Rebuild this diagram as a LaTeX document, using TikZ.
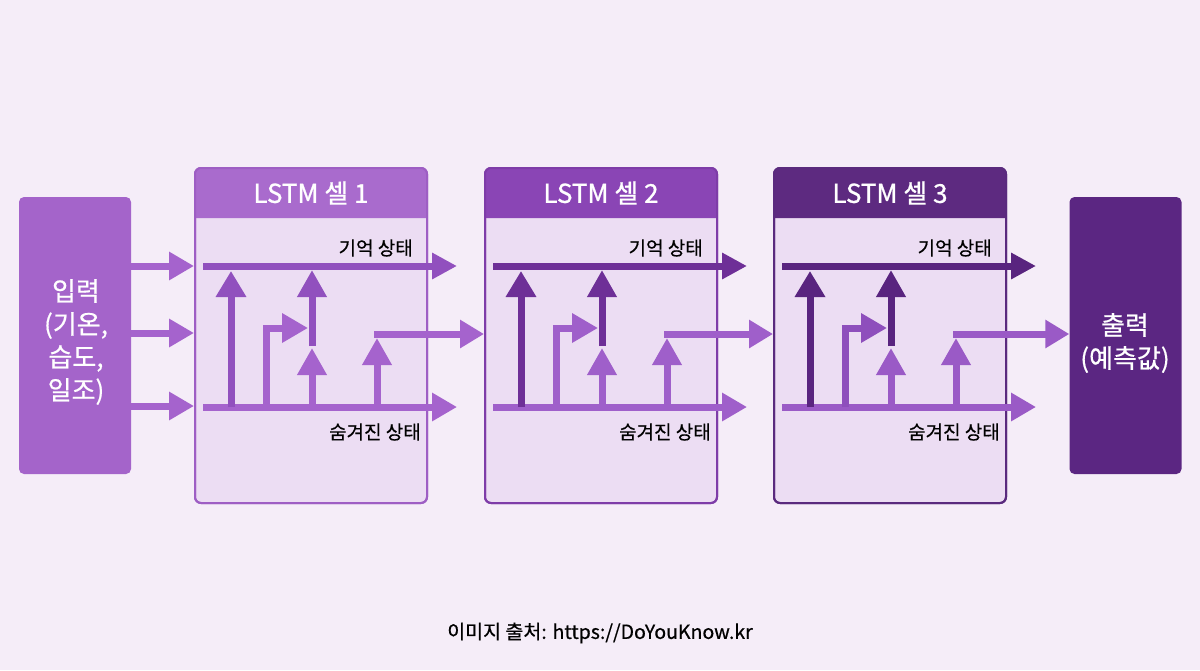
\documentclass[tikz,border=0pt]{standalone}
\usepackage{fontspec}
\setmainfont{Noto Sans CJK KR}
\newfontfamily\medfont{Noto Sans CJK KR}[FakeBold=0.9]
\newfontfamily\semifont{Noto Sans CJK KR}[FakeBold=0.6]
\usetikzlibrary{arrows.meta}
\definecolor{bg}{HTML}{F5EDF8}
\definecolor{inC}{HTML}{A464CA}
\definecolor{outC}{HTML}{5B2682}
\definecolor{hdA}{HTML}{A96BCD}
\definecolor{hdB}{HTML}{8A45B5}
\definecolor{hdC}{HTML}{5D2A80}
\definecolor{bdA}{HTML}{9E5EC4}
\definecolor{bdB}{HTML}{7E3CA8}
\definecolor{bdC}{HTML}{5A2A7E}
\definecolor{bodyC}{HTML}{ECDDF3}
\definecolor{memA}{HTML}{9150BE}
\definecolor{medA}{HTML}{A563CD}
\definecolor{darkB}{HTML}{6E2F97}
\definecolor{medB}{HTML}{9F5FCA}
\definecolor{darkC}{HTML}{59247F}
\definecolor{medC}{HTML}{9A5AC6}
\definecolor{medD}{HTML}{8E4FBC}
\tikzset{
  arr/.style={line width=7pt,-{Triangle[length=25pt,width=27pt]}},
  lbl/.style={font=\semifont\fontsize{19}{22}\selectfont, text=black, inner sep=0pt},
  ttl/.style={font=\medfont\fontsize{26}{30}\selectfont, text=white, inner sep=0pt},
  iobox/.style={rounded corners=5pt, minimum width=112pt, minimum height=277pt, inner sep=0pt},
  iotext/.style={text=white, align=center, inner sep=0pt, font=\semifont\fontsize{26}{33}\selectfont},
  cellbox/.style={rounded corners=6pt, minimum width=232pt, minimum height=335pt, inner sep=0pt, fill=bodyC, line width=2pt},
}
\begin{document}
\begin{tikzpicture}[x=1pt,y=-1pt]
\fill[bg] (0,0) rectangle (1200,670);
\useasboundingbox (0,0) rectangle (1200,670);

% input and output boxes
\node[iobox, fill=inC] (in) at (75,335.5) {};
\node[iotext] (intext) at (76,342) {입력\\(기온,\\습도,\\일조)};
\node[iobox, fill=outC] (out) at (1125.5,335.5) {};
\node[iotext] (outtext) at (1125,343) {출력\\(예측값)};

\foreach \i/\dx/\hc/\bc/\mc/\ac/\ec in {1/0/hdA/bdA/memA/medA/medA, 2/290/hdB/bdB/darkB/medB/medB, 3/579/hdC/bdC/darkC/medC/medD}{
  \begin{scope}[xshift=\dx pt]
  \node[cellbox, draw=\bc] (cell\i) at (311,335.5) {};
  \fill[\hc] (195,218) [rounded corners=6pt] -- (195,168) -- (427,168) [sharp corners] -- (427,218) -- cycle;
  \draw[\bc, line width=2pt, rounded corners=6pt] (195,503) rectangle (427,168);
  \node[ttl] (title\i) at (311,193) {LSTM 셀 \i};
  \node[lbl, anchor=east] (mlab\i) at (413,248) {기억 상태};
  \node[lbl, anchor=east] (hlab\i) at (421,432) {숨겨진 상태};
  \coordinate (ms\i) at (203,266);
  \coordinate (me\i) at (457,266);
  \coordinate (hs\i) at (203,407);
  \coordinate (he\i) at (457,407);
  \coordinate (v1b\i) at (231,407);
  \coordinate (v1t\i) at (231,271);
  \coordinate (v2b\i) at (266,407);
  \coordinate (v2t\i) at (308,328);
  \coordinate (v3a\i) at (312,346);
  \coordinate (v3t\i) at (312,270);
  \coordinate (v3b\i) at (312,407);
  \coordinate (v3m\i) at (312,348);
  \coordinate (v4b\i) at (377,407);
  \coordinate (v4t\i) at (377,338);
  \coordinate (o\i) at (374,334);
  % hidden and memory lines
  \draw[arr, \ac] (hs\i) -- (he\i);
  \draw[arr, \mc, -{Triangle[length=25pt,width=25pt]}] (ms\i) -- (me\i);
  % gate arrows
  \draw[arr, \mc, -{Triangle[length=26pt,width=29pt]}] (v1b\i) -- (v1t\i);
  \draw[arr, \ec, -{Triangle[length=26pt,width=28pt]}] (v2b\i) |- (v2t\i);
  \draw[arr, \mc, -{Triangle[length=27pt,width=28pt]}] (v3a\i) -- (v3t\i);
  \draw[arr, \ac, -{Triangle[length=27pt,width=28pt]}] (v3b\i) -- (v3m\i);
  \draw[arr, \ac, -{Triangle[length=27pt,width=28pt]}] (v4b\i) -- (v4t\i);
  \end{scope}
}

% inter-cell connectors
\draw[arr, medA, -{Triangle[length=24pt,width=27pt]}] (o1) -- (o1 -| cell2.west);
\draw[arr, medB, -{Triangle[length=24pt,width=27pt]}] (o2) -- (o2 -| cell3.west);
\draw[arr, medC, -{Triangle[length=24pt,width=27pt]}] (o3) -- (o3 -| out.west);

% input arrows
\coordinate (i1) at (132,266);
\coordinate (i2) at (132,333);
\coordinate (i3) at (132,406);
\foreach \k in {1,2,3}{
  \draw[arr, medA, -{Triangle[length=25pt,width=27pt]}] (i\k -| in.east) -- (i\k -| cell1.west);
}

\node[font=\semifont\fontsize{19.5}{22}\selectfont, text=black] (src) at (600,633) {이미지 출처: https://DoYouKnow.kr};
\end{tikzpicture}
\end{document}
